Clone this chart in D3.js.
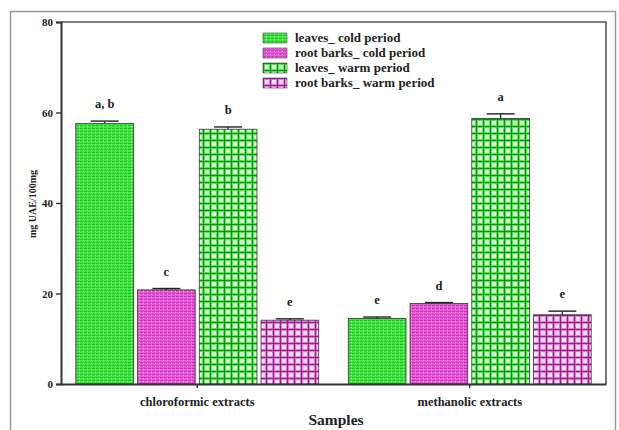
<!DOCTYPE html>
<html><head><meta charset="utf-8">
<script src="https://cdn.jsdelivr.net/npm/d3@7"></script>
<style>body{margin:0;background:#fff}svg{display:block}text{font-family:"Liberation Serif","Times New Roman",serif;font-weight:bold;fill:#222}</style>
</head><body>
<script>
const groups = ["chloroformic extracts", "methanolic extracts"];
const seriesNames = ["leaves_ cold period", "root barks_ cold period", "leaves_ warm period", "root barks_ warm period"];
const chloroValues = [57.6, 20.8, 56.3, 14.1];
const methanolValues = [14.5, 17.8, 58.7, 15.3];
const chloroErrors = [0.5, 0.3, 0.5, 0.3];
const methanolErrors = [0.3, 0.2, 1.0, 0.8];
const chloroLetters = ["a, b", "c", "b", "e"];
const methanolLetters = ["e", "d", "a", "e"];
const yTicks = [0, 20, 40, 60, 80];

const W = 619, H = 430;
const L = 61, R = 606, T = 22, B = 384;
const svg = d3.select("body").append("svg").attr("width", W).attr("height", H);
const defs = svg.append("defs");

function pat(id, size, build) {
  const p = defs.append("pattern").attr("id", id).attr("patternUnits", "userSpaceOnUse")
    .attr("width", size[0]).attr("height", size[1]);
  build(p);
}
pat("p0", [4, 3], p => {
  p.append("rect").attr("width", 4).attr("height", 3).attr("fill", "#3be83b");
  p.append("rect").attr("y", 2).attr("width", 3).attr("height", 1).attr("fill", "#1f9a1f").attr("opacity", 0.55);
  p.append("rect").attr("x", 3).attr("y", 0).attr("width", 1).attr("height", 1).attr("fill", "#9cff9c");
});
pat("p1", [4, 3], p => {
  p.append("rect").attr("width", 4).attr("height", 3).attr("fill", "#ee55dd");
  p.append("rect").attr("y", 2).attr("width", 3).attr("height", 1).attr("fill", "#8a2a80").attr("opacity", 0.5);
  p.append("rect").attr("x", 3).attr("y", 0).attr("width", 1).attr("height", 1).attr("fill", "#ff9cf0");
});
pat("p2", [7, 7], p => {
  p.append("rect").attr("width", 7).attr("height", 7).attr("fill", "#44ee44");
  p.append("rect").attr("x", 2).attr("y", 2).attr("width", 4).attr("height", 4).attr("fill", "#d8ffd8");
  p.append("rect").attr("x", 0).attr("y", 0).attr("width", 7).attr("height", 1).attr("fill", "#1a6e1a").attr("opacity", 0.8);
  p.append("rect").attr("x", 0).attr("y", 0).attr("width", 1).attr("height", 7).attr("fill", "#1a6e1a").attr("opacity", 0.8);
});
pat("p3", [7, 7], p => {
  p.append("rect").attr("width", 7).attr("height", 7).attr("fill", "#f070e4");
  p.append("rect").attr("x", 2).attr("y", 2).attr("width", 4).attr("height", 4).attr("fill", "#ffe4fb");
  p.append("rect").attr("x", 0).attr("y", 0).attr("width", 7).attr("height", 1).attr("fill", "#6a1f62").attr("opacity", 0.8);
  p.append("rect").attr("x", 0).attr("y", 0).attr("width", 1).attr("height", 7).attr("fill", "#6a1f62").attr("opacity", 0.8);
});
const fills = ["url(#p0)", "url(#p1)", "url(#p2)", "url(#p3)"];

svg.append("rect").attr("x", 10.5).attr("y", 11.5).attr("width", 605).attr("height", 425)
  .attr("fill", "none").attr("stroke", "#9a9a9a").attr("stroke-width", 1.5);

const y = d3.scaleLinear().domain([0, 80]).range([B, T]);
const x0 = d3.scaleBand().domain(groups).range([L, R]);
const x1 = d3.scaleBand().domain(seriesNames).range([0, x0.bandwidth()]).paddingInner(0.066).paddingOuter(0.24);

const data = [
  {g: groups[0], vals: chloroValues, errs: chloroErrors, lets: chloroLetters},
  {g: groups[1], vals: methanolValues, errs: methanolErrors, lets: methanolLetters}
];

svg.append("path").attr("d", `M${L},${T}H${R}V${B}`).attr("fill", "none").attr("stroke", "#555").attr("stroke-width", 1.6);

data.forEach(d => {
  const gx = x0(d.g);
  seriesNames.forEach((s, i) => {
    const bx = gx + x1(s), bw = x1.bandwidth();
    svg.append("rect").attr("x", bx).attr("y", y(d.vals[i])).attr("width", bw)
      .attr("height", y(0) - y(d.vals[i])).attr("fill", fills[i]).attr("stroke", "#333").attr("stroke-width", 0.8);
    const cx = bx + bw / 2, top = y(d.vals[i] + d.errs[i]);
    svg.append("line").attr("x1", cx).attr("x2", cx).attr("y1", y(d.vals[i])).attr("y2", top).attr("stroke", "#222").attr("stroke-width", 1.2);
    svg.append("line").attr("x1", cx - 14).attr("x2", cx + 14).attr("y1", top).attr("y2", top).attr("stroke", "#222").attr("stroke-width", 1.4);
    svg.append("text").attr("x", cx).attr("y", top - 13).attr("text-anchor", "middle")
      .attr("font-size", 12.5).text(d.lets[i]);
  });
});

const yAxis = svg.append("g").attr("transform", `translate(${L},0)`)
  .call(d3.axisLeft(y).tickValues(yTicks).tickSize(5).tickPadding(3));
yAxis.select(".domain").attr("stroke", "#333").attr("stroke-width", 2);
yAxis.selectAll(".tick line").attr("stroke", "#333").attr("stroke-width", 1.4);
yAxis.selectAll("text").attr("font-size", 11).attr("font-family", "Liberation Serif").attr("font-weight", "bold").attr("fill", "#222");

const xAxis = svg.append("g").attr("transform", `translate(0,${B})`)
  .call(d3.axisBottom(x0).tickSize(4).tickPadding(9).tickSizeOuter(0));
xAxis.select(".domain").attr("stroke", "#333").attr("stroke-width", 2);
xAxis.selectAll(".tick line").attr("stroke", "#333").attr("stroke-width", 1.4);
xAxis.selectAll("text").attr("font-size", 12.5).attr("font-family", "Liberation Serif").attr("font-weight", "bold").attr("fill", "#222");

svg.append("text").attr("transform", `translate(36,204) rotate(-90)`).attr("text-anchor", "middle")
  .attr("font-size", 10).text("mg UAE/100mg");
svg.append("text").attr("x", 336).attr("y", 425).attr("text-anchor", "middle")
  .attr("font-size", 15.5).text("Samples");

const lg = svg.append("g").attr("transform", "translate(263,33)");
seriesNames.forEach((s, i) => {
  const row = lg.append("g").attr("transform", `translate(0,${i * 15})`);
  row.append("rect").attr("width", 24).attr("height", 10).attr("fill", fills[i]).attr("stroke", "#444").attr("stroke-width", 0.6);
  row.append("text").attr("x", 32).attr("y", 9).attr("font-size", 13).text(s);
});
</script>
</body></html>
